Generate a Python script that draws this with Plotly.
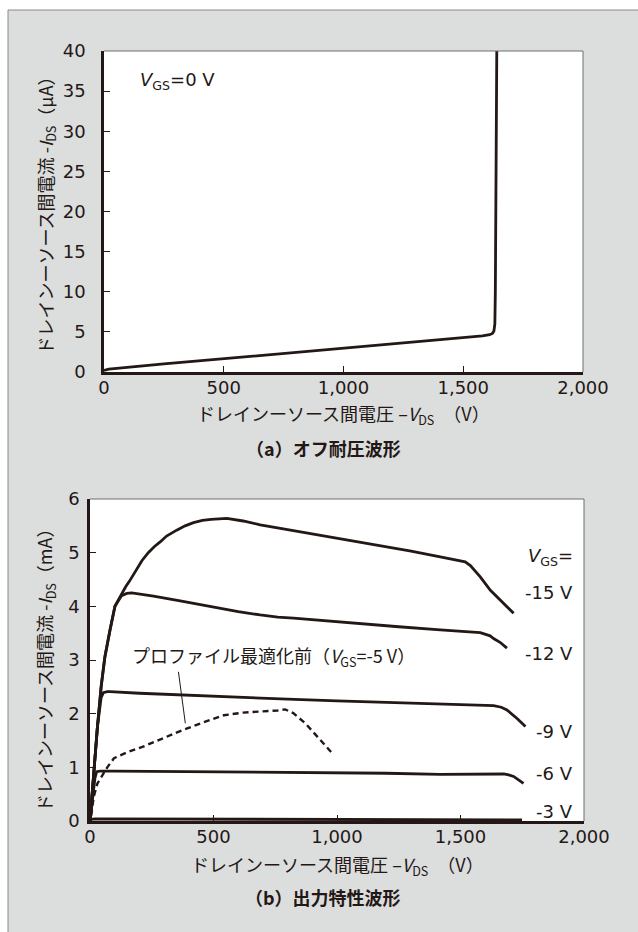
import plotly.graph_objects as go

# ---------------- data ----------------
# (a) off-state breakdown, VGS = 0 V
off_vds = [0, 20, 250, 500, 750, 1000, 1250, 1500, 1580, 1610, 1622, 1628, 1632, 1634, 1636, 1640]
off_ids = [0.2, 0.35, 1.0, 1.65, 2.3, 2.95, 3.6, 4.3, 4.5, 4.65, 4.8, 5.1, 6.0, 10, 25, 40]

# (b) output characteristics (mA)
v15 = [0, 15, 30, 45, 60, 81, 101, 110, 128, 145, 160, 189, 210, 236, 260, 284, 310, 351, 385, 419, 455, 490,
       520, 554, 620, 689, 800, 900, 1000, 1100, 1200, 1300, 1418, 1519, 1540, 1580, 1621, 1670, 1715]
i15 = [0, 0.9, 1.75, 2.5, 3.05, 3.56, 4.0, 4.08, 4.24, 4.37, 4.47, 4.68, 4.85, 5.0, 5.11, 5.2, 5.31, 5.42, 5.50,
       5.56, 5.60, 5.62, 5.63, 5.64, 5.59, 5.52, 5.43, 5.35, 5.27, 5.19, 5.11, 5.03, 4.92, 4.83, 4.76, 4.55,
       4.30, 4.08, 3.87]

v12 = [0, 15, 30, 45, 60, 81, 101, 128, 149, 169, 203, 257, 365, 486, 600, 689, 760, 824, 950, 1094, 1250,
       1418, 1500, 1580, 1620, 1634, 1660, 1688]
i12 = [0, 0.9, 1.75, 2.5, 3.05, 3.56, 4.0, 4.2, 4.24, 4.25, 4.23, 4.19, 4.10, 3.99, 3.90, 3.84, 3.80, 3.78,
       3.73, 3.68, 3.62, 3.56, 3.54, 3.51, 3.45, 3.40, 3.33, 3.22]

v9 = [0, 15, 30, 45, 54, 70, 81, 200, 400, 600, 800, 1000, 1200, 1418, 1550, 1634, 1665, 1688, 1729, 1763]
i9 = [0, 0.9, 1.75, 2.3, 2.39, 2.41, 2.41, 2.38, 2.34, 2.30, 2.27, 2.24, 2.21, 2.17, 2.16, 2.15, 2.12, 2.07,
      1.91, 1.76]

v6 = [0, 10, 20, 27, 40, 100, 400, 800, 1200, 1418, 1600, 1650, 1675, 1695, 1715, 1755]
i6 = [0, 0.45, 0.8, 0.92, 0.93, 0.93, 0.92, 0.91, 0.89, 0.87, 0.87, 0.875, 0.876, 0.86, 0.83, 0.70]

v3 = [0, 5, 20, 1700, 1749]
i3 = [0, 0.03, 0.04, 0.03, 0.02]

# before profile optimisation, VGS = -5 V (dashed)
vd = [5, 15, 30, 47, 70, 97, 150, 212, 300, 378, 460, 542, 620, 707, 760, 790, 823, 872, 922, 960, 987]
idd = [0.1, 0.45, 0.7, 0.83, 1.0, 1.17, 1.28, 1.38, 1.55, 1.70, 1.84, 1.97, 2.02, 2.04, 2.06, 2.08, 2.01,
       1.82, 1.57, 1.38, 1.23]

pointer_v = [358, 386]
pointer_i = [2.78, 1.82]

x_tickvals = [0, 500, 1000, 1500, 2000]
x_ticktext = ["0", "500", "1,000", "1,500", "2,000"]
ya_tickvals = [0, 5, 10, 15, 20, 25, 30, 35, 40]
yb_tickvals = [0, 1, 2, 3, 4, 5, 6]

gs_labels = ["-15 V", "-12 V", "-9 V", "-6 V", "-3 V"]

# ---------------- style ----------------
W, H = 638, 932
INK = "#231815"
BG = "#dcdddd"
JP = "Noto Sans CJK JP"
NUM = "DejaVu Sans, Noto Sans CJK JP"


def px(x):
    return x / W


def py(y):
    return 1 - y / H


# plot rectangles in pixels: left, right, top, bottom
A = (104, 583, 51, 372)
B = (90, 584, 499, 821)

fig = go.Figure()

line_style = dict(color=INK, width=2.8)
fig.add_trace(go.Scatter(x=off_vds, y=off_ids, mode="lines", line=line_style, xaxis="x", yaxis="y",
                         showlegend=False, hoverinfo="skip"))

for vx, iy in [(v15, i15), (v12, i12), (v9, i9), (v6, i6), (v3, i3)]:
    fig.add_trace(go.Scatter(x=vx, y=iy, mode="lines", line=line_style, xaxis="x2", yaxis="y2",
                             showlegend=False, hoverinfo="skip"))
fig.add_trace(go.Scatter(x=vd, y=idd, mode="lines", line=dict(color=INK, width=2.4, dash="6px,4px"),
                         xaxis="x2", yaxis="y2", showlegend=False, hoverinfo="skip"))
fig.add_trace(go.Scatter(x=pointer_v, y=pointer_i, mode="lines", line=dict(color=INK, width=1),
                         xaxis="x2", yaxis="y2", showlegend=False, hoverinfo="skip"))


def xaxis(rect, anchor):
    return dict(domain=[px(rect[0]), px(rect[1])], anchor=anchor, range=[0, 2000], automargin=False,
                showline=True, linecolor=INK, linewidth=2.5, ticks="inside", ticklen=6, tickwidth=1,
                tickcolor=INK, tickvals=x_tickvals, ticktext=x_ticktext, showgrid=False, zeroline=False,
                tickfont=dict(family=NUM, size=18, color=INK), ticklabelstandoff=-2, fixedrange=True)


def yaxis(rect, anchor, rng, tv, standoff):
    return dict(domain=[py(rect[3]), py(rect[2])], anchor=anchor, range=rng, automargin=False,
                showline=True, linecolor=INK, linewidth=2.5, ticks="inside", ticklen=6, tickwidth=1,
                tickcolor=INK, tickvals=tv, showgrid=False, zeroline=False,
                tickfont=dict(family=NUM, size=18, color=INK), ticklabelstandoff=standoff, fixedrange=True)


# paper is grey; white strips at the left and top, plus the panel border lines
shapes = [
    dict(type="rect", xref="paper", yref="paper", x0=0, x1=px(8), y0=0, y1=1,
         fillcolor="white", line=dict(width=0), layer="below"),
    dict(type="rect", xref="paper", yref="paper", x0=0, x1=1, y0=py(10), y1=1,
         fillcolor="white", line=dict(width=0), layer="below"),
    dict(type="line", xref="paper", yref="paper", x0=px(8), x1=1, y0=py(10), y1=py(10),
         line=dict(color="#8a8a8a", width=1)),
    dict(type="line", xref="paper", yref="paper", x0=px(8), x1=px(8), y0=0, y1=py(10),
         line=dict(color="#8a8a8a", width=1)),
]
for rect, xa, ya in [(A, "x", "y"), (B, "x2", "y2")]:
    shapes.append(dict(type="line", xref=xa + " domain", yref=ya + " domain", x0=0, x1=1, y0=1, y1=1,
                       line=dict(color="#6e6e6e", width=1)))
    shapes.append(dict(type="line", xref=xa + " domain", yref=ya + " domain", x0=1, x1=1, y0=0, y1=1,
                       line=dict(color="#6e6e6e", width=1)))

jp_font = dict(family=JP, size=18, color=INK)
num_font = dict(family=NUM, size=18, color=INK)

ann = []


def add_text(text, x, y, font, **kw):
    d = dict(text=text, x=x, y=y, xref="paper", yref="paper", showarrow=False, font=font,
             xanchor="center", yanchor="middle")
    d.update(kw)
    ann.append(d)


# (a)
add_text("ドレインーソース間電流 -<i>I</i><sub>DS</sub>（μA）", px(46), py((A[2] + A[3]) / 2), jp_font,
         textangle=-90)
add_text("ドレインーソース間電圧 –<i>V</i><sub>DS</sub>　（V）", px((A[0] + A[1]) / 2), py(414), jp_font)
add_text("<b>（a）オフ耐圧波形</b>", px(323), py(448), jp_font)
ann.append(dict(text="<i>V</i><sub>GS</sub>=0 V", x=142, y=36.2, xref="x", yref="y", xanchor="left",
                yanchor="middle", showarrow=False, font=num_font))

# (b)
add_text("ドレインーソース間電流 -<i>I</i><sub>DS</sub>（mA）", px(45), py(666), jp_font, textangle=-90)
add_text("ドレインーソース間電圧 –<i>V</i><sub>DS</sub>　（V）", px((B[0] + B[1]) / 2), py(865), jp_font)
add_text("<b>（b）出力特性波形</b>", px(323), py(897), jp_font)
ann.append(dict(text="プロファイル最適化前（<i>V</i><sub>GS</sub>=-5 V）", x=162, y=3.06, xref="x2", yref="y2",
                xanchor="left", yanchor="middle", showarrow=False, font=jp_font))
ann.append(dict(text="<i>V</i><sub>GS</sub>=", x=1965, y=4.92, xref="x2", yref="y2", xanchor="right",
                yanchor="middle", showarrow=False, font=num_font))
for lbl, yv in zip(gs_labels, [4.25, 3.13, 1.66, 0.89, 0.17]):
    ann.append(dict(text=lbl, x=1965, y=yv, xref="x2", yref="y2", xanchor="right", yanchor="middle",
                    showarrow=False, font=num_font))

fig.update_layout(
    width=W, height=H, margin=dict(l=0, r=0, t=0, b=0, pad=0, autoexpand=False),
    paper_bgcolor=BG, plot_bgcolor="white",
    xaxis=xaxis(A, "y"), yaxis=yaxis(A, "x", [0, 40], ya_tickvals, 12),
    xaxis2=xaxis(B, "y2"), yaxis2=yaxis(B, "x2", [0, 6], yb_tickvals, 4),
    shapes=shapes, annotations=ann, showlegend=False,
)

fig.write_html("out.html", config={"displayModeBar": False},
               post_script="document.body.style.margin='0';document.body.style.overflow='hidden';"
                           "document.documentElement.style.overflow='hidden';"
                           "document.body.style.background='" + BG + "';")
